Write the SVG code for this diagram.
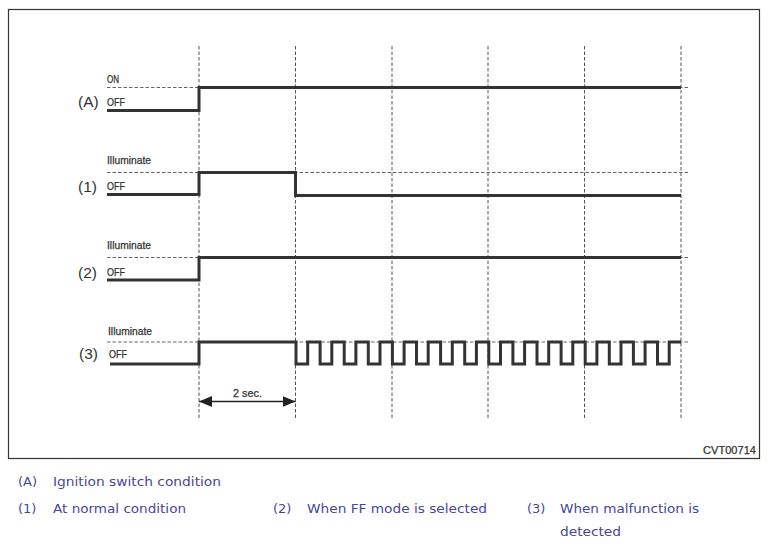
<svg xmlns="http://www.w3.org/2000/svg" width="769" height="544" viewBox="0 0 769 544">
<defs>
<style>
.bg{fill:#fff}
.frame{fill:none;stroke:#333;stroke-width:1.2}
.vdash{stroke:#555;stroke-width:1;stroke-dasharray:3.5 2;fill:none}
.hdash{stroke:#666;stroke-width:1;stroke-dasharray:3.5 2;fill:none}
.sig{fill:none;stroke:#333;stroke-width:3;stroke-linejoin:miter;stroke-linecap:butt}
.lbl{font-family:"Liberation Sans",Arial,sans-serif;font-size:10.5px;fill:#333;stroke:#333;stroke-width:0.25}
.row{font-family:"Liberation Sans",Arial,sans-serif;font-size:15.5px;fill:#333}
.cap{font-family:"DejaVu Sans",Verdana,sans-serif;font-size:13px;fill:#47479a}
.dim{stroke:#222;stroke-width:1.3;fill:none}
</style>
<marker id="ah" viewBox="0 0 13 11" refX="13" refY="5.5" markerWidth="13" markerHeight="11" markerUnits="userSpaceOnUse" orient="auto-start-reverse">
<path d="M0 0 L13 5.5 L0 11 Z" fill="#222"/>
</marker>
</defs>
<rect class="bg" x="0" y="0" width="769" height="544"/>
<rect class="frame" x="8.5" y="9.5" width="751" height="449"/>

<g id="grid">
<line class="vdash" x1="199" y1="46" x2="199" y2="418"/>
<line class="vdash" x1="295.5" y1="46" x2="295.5" y2="418"/>
<line class="vdash" x1="392" y1="46" x2="392" y2="418"/>
<line class="vdash" x1="488" y1="46" x2="488" y2="418"/>
<line class="vdash" x1="584.5" y1="46" x2="584.5" y2="418"/>
<line class="vdash" x1="681" y1="46" x2="681" y2="418"/>
</g>

<g id="rowA">
<line class="hdash" x1="107" y1="87.5" x2="689" y2="87.5"/>
<path class="sig" d="M107 110.5 H199 V87.5 H681"/>
<text class="lbl" x="107" y="82.5" textLength="12" lengthAdjust="spacingAndGlyphs">ON</text>
<text class="lbl" x="107" y="105.5" textLength="18" lengthAdjust="spacingAndGlyphs">OFF</text>
<text class="row" x="78" y="107">(A)</text>
</g>

<g id="row1">
<line class="hdash" x1="107" y1="172.5" x2="689" y2="172.5"/>
<path class="sig" d="M107 194.5 H199 V172.5 H295.5 V195.5 H681"/>
<text class="lbl" x="107" y="163.5" textLength="44" lengthAdjust="spacingAndGlyphs">Illuminate</text>
<text class="lbl" x="107" y="190" textLength="18" lengthAdjust="spacingAndGlyphs">OFF</text>
<text class="row" x="78" y="191.5">(1)</text>
</g>

<g id="row2">
<line class="hdash" x1="107" y1="257.5" x2="689" y2="257.5"/>
<path class="sig" d="M107 280 H199 V257.5 H681"/>
<text class="lbl" x="107" y="248.5" textLength="44" lengthAdjust="spacingAndGlyphs">Illuminate</text>
<text class="lbl" x="107" y="275.5" textLength="18" lengthAdjust="spacingAndGlyphs">OFF</text>
<text class="row" x="78" y="278">(2)</text>
</g>

<g id="row3">
<line class="hdash" x1="107" y1="342" x2="689" y2="342"/>
<path class="sig" d="M110 364 H199 V342 H296 V364 H307.7 V342 H320.1 V364 H331.8 V342 H344.2 V364 H355.9 V342 H368.3 V364 H380 V342 H392.4 V364 H404.1 V342 H416.5 V364 H428.2 V342 H440.6 V364 H452.3 V342 H464.7 V364 H476.4 V342 H488.8 V364 H500.5 V342 H512.9 V364 H524.6 V342 H537 V364 H548.7 V342 H561.1 V364 H572.8 V342 H585.2 V364 H596.9 V342 H609.3 V364 H621 V342 H633.4 V364 H645.1 V342 H657.5 V364 H669.2 V342 H681"/>
<text class="lbl" x="108" y="335" textLength="44" lengthAdjust="spacingAndGlyphs">Illuminate</text>
<text class="lbl" x="109" y="357.5" textLength="18" lengthAdjust="spacingAndGlyphs">OFF</text>
<text class="row" x="79" y="359">(3)</text>
</g>

<g id="connectors">
<line class="dim" x1="199" y1="401.5" x2="295.5" y2="401.5" marker-start="url(#ah)" marker-end="url(#ah)"/>
</g>
<text class="lbl" x="233" y="397" textLength="29" lengthAdjust="spacingAndGlyphs">2 sec.</text>
<text class="lbl" x="703" y="453.5" textLength="53" lengthAdjust="spacingAndGlyphs">CVT00714</text>

<g id="captions">
<text class="cap" x="18" y="486">(A)</text>
<text class="cap" x="53" y="486" textLength="168" lengthAdjust="spacingAndGlyphs">Ignition switch condition</text>
<text class="cap" x="18" y="513">(1)</text>
<text class="cap" x="53" y="513" textLength="133" lengthAdjust="spacingAndGlyphs">At normal condition</text>
<text class="cap" x="273" y="513">(2)</text>
<text class="cap" x="307" y="513" textLength="180" lengthAdjust="spacingAndGlyphs">When FF mode is selected</text>
<text class="cap" x="527" y="513">(3)</text>
<text class="cap" x="560" y="513" textLength="139" lengthAdjust="spacingAndGlyphs">When malfunction is</text>
<text class="cap" x="560" y="536" textLength="61" lengthAdjust="spacingAndGlyphs">detected</text>
</g>
</svg>
